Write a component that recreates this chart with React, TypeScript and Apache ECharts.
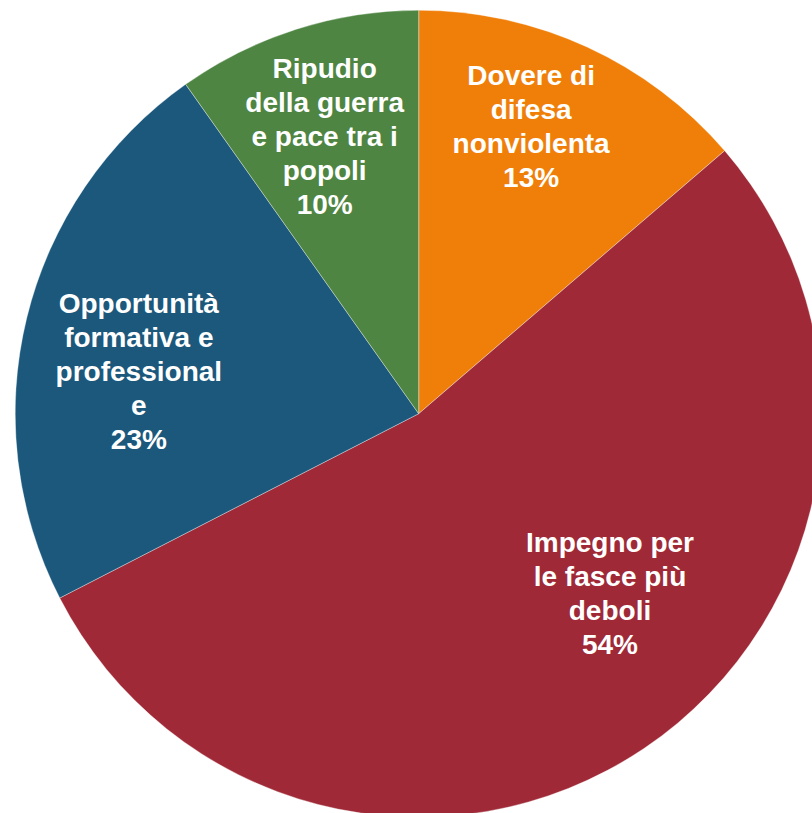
import React, { useEffect, useRef } from "react";
import * as echarts from "echarts";

// Category names (wrapped as in the reference labels)
const categories: string[] = [
  "Dovere di\ndifesa\nnonviolenta",
  "Impegno per\nle fasce più\ndeboli",
  "Opportunità\nformativa e\nprofessional\ne",
  "Ripudio\ndella guerra\ne pace tra i\npopoli",
];

// Slice shares (percent)
const values: number[] = [13.7, 53.75, 22.75, 9.8];

const colors: string[] = ["#F07F09", "#9F2936", "#1B587C", "#4E8542"];

// Label nudges from the default inside position [dx, dy]
const labelShift: number[][] = [
  [27, -101],
  [77, 10],
  [-81, 7],
  [-32, -82],
];

export default function App() {
  const ref = useRef<HTMLDivElement>(null);

  useEffect(() => {
    if (!ref.current) return;
    const chart = echarts.init(ref.current, undefined, { renderer: "svg" });
    chart.setOption({
      animation: false,
      backgroundColor: "#ffffff",
      series: [
        {
          type: "pie",
          center: [418.7, 413.7],
          radius: [0, 403.5],
          startAngle: 90,
          clockwise: true,
          percentPrecision: 0,
          avoidLabelOverlap: false,
          silent: true,
          itemStyle: {
            borderColor: "rgba(255,255,255,0.35)",
            borderWidth: 1,
          },
          label: {
            show: true,
            position: "inside",
            formatter: "{b}\n{d}%",
            color: "#ffffff",
            fontFamily: "'Liberation Sans', Arial, sans-serif",
            fontWeight: "bold",
            fontSize: 28,
            lineHeight: 34,
            align: "center",
          },
          labelLine: { show: false },
          labelLayout: (params: any) => {
            const s = labelShift[params.dataIndex] || [0, 0];
            return { dx: s[0], dy: s[1] };
          },
          data: categories.map((name, i) => ({
            name,
            value: values[i],
            itemStyle: { color: colors[i] },
          })),
        },
      ],
    });
    return () => chart.dispose();
  }, []);

  return (
    <div
      ref={ref}
      style={{ position: "fixed", left: 0, top: 0, width: 812, height: 813 }}
    />
  );
}
